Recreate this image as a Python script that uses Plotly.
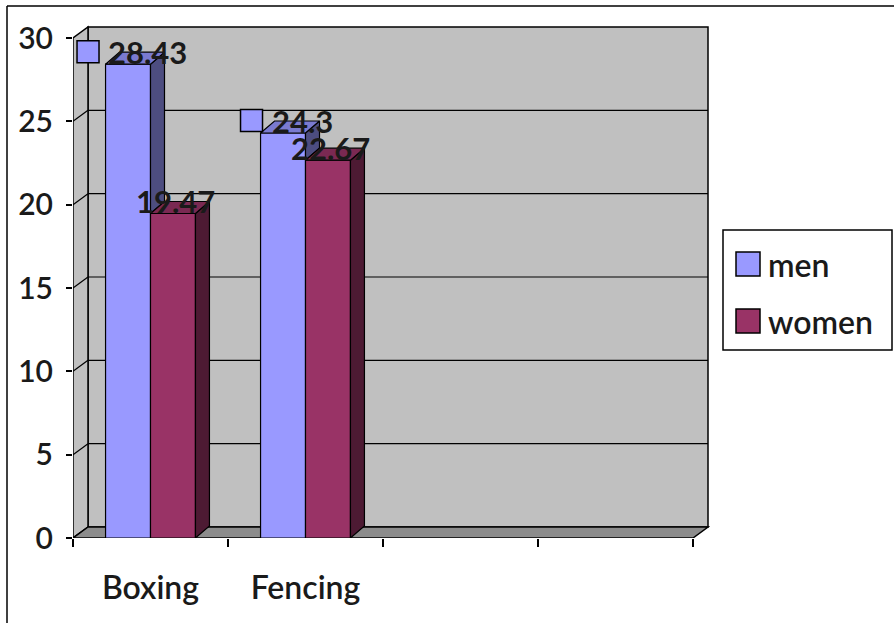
import plotly.graph_objects as go

# ---------------- data ----------------
categories = ["Boxing", "Fencing"]
n_slots = 4                      # category slots on the axis (two are empty)
series_names = ["men", "women"]
men = [28.43, 24.3]
women = [19.47, 22.67]
y_tick_vals = [0, 5, 10, 15, 20, 25, 30]

front_colors = {"men": "#9999FF", "women": "#993366"}
top_colors = {"men": "#7A7AD0", "women": "#7A2952"}
side_colors = {"men": "#4D4D80", "women": "#4D1A33"}

# ---------------- geometry helpers ----------------
W, H = 894, 623
L, B = 73, 85
PX_X = 155.0            # pixels per category unit
PX_Y = 500.0 / 30.0     # pixels per value unit
XMAX = (W - L) / PX_X
YMAX = (H - B) / PX_Y
YTOP = max(y_tick_vals)


def dxu(px):
    return px / PX_X


def dyu(px):
    return px / PX_Y


def pxx(px):  # pixel -> paper x
    return (px - L) / (W - L)


def pxy(py):  # pixel -> paper y
    return (H - B - py) / (H - B)


WDX, WDY = dxu(15), dyu(11)   # wall depth
BDX, BDY = dxu(14), dyu(12)   # bar depth
BAR_W = 0.29

fig = go.Figure()

series_vals = {"men": men, "women": women}
offsets = {"men": -BAR_W, "women": 0.0}
centers = [i + 0.5 for i in range(len(categories))]

# front faces (real bar traces)
for s in series_names:
    fig.add_trace(go.Bar(
        x=centers, y=series_vals[s], name=s, offset=offsets[s], width=BAR_W,
        marker=dict(color=front_colors[s], line=dict(color="black", width=1.2)),
        showlegend=False, hoverinfo="skip"))

# side and top faces (derived from data)
for i, c in enumerate(centers):
    for k, s in enumerate(series_names):
        v = series_vals[s][i]
        xl = c + offsets[s]
        xr = xl + BAR_W
        low = 0.0
        if k + 1 < len(series_names):
            nv = series_vals[series_names[k + 1]][i]
            low = nv
            if nv >= v:
                low = None
        if low is not None:
            fig.add_trace(go.Scatter(
                x=[xr, xr + BDX, xr + BDX, xr, xr],
                y=[low, low + BDY, v + BDY, v, low],
                mode="lines", fill="toself", fillcolor=side_colors[s],
                line=dict(color="black", width=1.2), showlegend=False, hoverinfo="skip"))
        fig.add_trace(go.Scatter(
            x=[xl, xr, xr + BDX, xl + BDX, xl],
            y=[v, v, v + BDY, v + BDY, v],
            mode="lines", fill="toself", fillcolor=top_colors[s],
            line=dict(color="black", width=1.2), showlegend=False, hoverinfo="skip"))

shapes = []
wall_line = dict(color="black", width=1.5)
# back wall
shapes.append(dict(type="rect", xref="x", yref="y", x0=WDX, y0=WDY, x1=n_slots + WDX, y1=YTOP + WDY,
                   fillcolor="#C0C0C0", line=wall_line, layer="below"))
# left wall
shapes.append(dict(type="path", xref="x", yref="y",
                   path=f"M 0,0 L {WDX},{WDY} L {WDX},{YTOP + WDY} L 0,{YTOP} Z",
                   fillcolor="#C0C0C0", line=wall_line, layer="below"))
# floor
shapes.append(dict(type="path", xref="x", yref="y",
                   path=f"M 0,0 L {n_slots},0 L {n_slots + WDX},{WDY} L {WDX},{WDY} Z",
                   fillcolor="#8C8C8C", line=wall_line, layer="below"))
# gridlines
for v in y_tick_vals[1:-1]:
    shapes.append(dict(type="line", xref="x", yref="y", x0=WDX, y0=v + WDY, x1=n_slots + WDX, y1=v + WDY,
                       line=dict(color="black", width=1.2), layer="below"))
    shapes.append(dict(type="line", xref="x", yref="y", x0=0, y0=v, x1=WDX, y1=v + WDY,
                       line=dict(color="black", width=1.2), layer="below"))

annotations = []
TEXT_COLOR = "#1A1A1A"
LABEL_FONT = dict(family="Lato", size=31, color=TEXT_COLOR, weight="bold")


def text_w(t):
    return sum(8 if ch == "." else 17 for ch in t)


for i, c in enumerate(centers):
    for s in series_names:
        v = series_vals[s][i]
        fc = c + offsets[s] + BAR_W / 2
        txt = f"{v:g}"
        yc = v + dyu(12.5)
        if s == "men":
            gw = 22 + 8 + text_w(txt)
            left_px = 2 - gw / 2
            x0 = fc + dxu(left_px)
            shapes.append(dict(type="rect", xref="x", yref="y", x0=x0, x1=x0 + dxu(22),
                               y0=yc - dyu(11), y1=yc + dyu(11), fillcolor=front_colors[s],
                               line=dict(color="black", width=1.5), layer="above"))
            annotations.append(dict(x=fc, y=yc, xref="x", yref="y", text=txt, showarrow=False,
                                    xanchor="left", yanchor="middle", xshift=left_px + 29,
                                    font=LABEL_FONT))
        else:
            annotations.append(dict(x=fc, y=yc, xref="x", yref="y", text=txt, showarrow=False,
                                    xanchor="center", yanchor="middle", xshift=3,
                                    font=LABEL_FONT))

# legend (drawn)
shapes.append(dict(type="rect", xref="paper", yref="paper", x0=pxx(723), x1=pxx(892), y0=pxy(350), y1=pxy(230),
                   fillcolor="white", line=dict(color="black", width=1.5), layer="above"))
leg_rows = [264, 321]
for s, yrow in zip(series_names, leg_rows):
    shapes.append(dict(type="rect", xref="paper", yref="paper", x0=pxx(736), x1=pxx(760),
                       y0=pxy(yrow + 12), y1=pxy(yrow - 12), fillcolor=front_colors[s],
                       line=dict(color="black", width=1.5), layer="above"))
    annotations.append(dict(x=pxx(766), y=pxy(yrow), xref="paper", yref="paper", text=s,
                            showarrow=False, xanchor="left", yanchor="middle",
                            font=dict(family="Lato", size=32, color=TEXT_COLOR, weight=600)))

# outer frame (left + top edges)
shapes.append(dict(type="line", xref="paper", yref="paper", x0=pxx(7), x1=pxx(7), y0=pxy(623), y1=pxy(6),
                   line=dict(color="black", width=1.5), layer="above"))
shapes.append(dict(type="line", xref="paper", yref="paper", x0=pxx(7), x1=pxx(894), y0=pxy(6), y1=pxy(6),
                   line=dict(color="black", width=1.5), layer="above"))

fig.update_layout(
    width=W, height=H, margin=dict(l=L, r=0, t=0, b=B),
    paper_bgcolor="white", plot_bgcolor="white",
    barmode="overlay", showlegend=False,
    shapes=shapes, annotations=annotations,
    xaxis=dict(range=[0, XMAX], tickvals=centers, ticktext=categories, ticks="",
               showgrid=False, zeroline=False, showline=False, ticklabelstandoff=28,
               tickfont=dict(family="Lato", size=32, color=TEXT_COLOR, weight=600),
               minor=dict(tickvals=list(range(n_slots + 1)), ticks="outside", ticklen=8,
                          tickcolor="black", tickwidth=1.5, showgrid=False)),
    yaxis=dict(range=[0, YMAX], tickvals=y_tick_vals, ticks="outside", ticklen=6,
               tickcolor="black", tickwidth=1.5, showgrid=False, zeroline=False,
               showline=False, ticklabelstandoff=7,
               tickfont=dict(family="Lato", size=30, color=TEXT_COLOR, weight=600)),
)

fig.write_html("out.html")
